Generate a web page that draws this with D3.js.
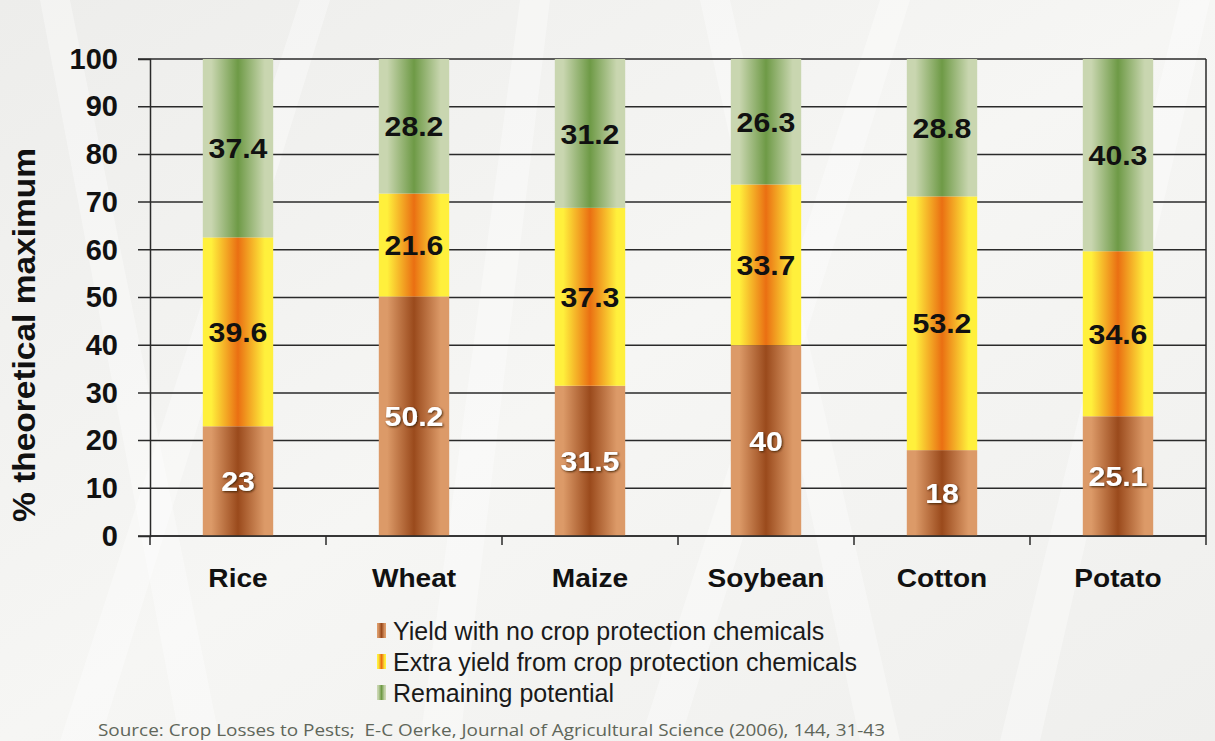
<!DOCTYPE html>
<html>
<head>
<meta charset="utf-8">
<script src="https://cdn.jsdelivr.net/npm/d3@7"></script>
<style>
  body { margin: 0; background: #f2f2f0; }
  svg { display: block; }
</style>
</head>
<body>
<div id="chart"></div>
<script>
var crops = ["Rice", "Wheat", "Maize", "Soybean", "Cotton", "Potato"];
var noChem = [23, 50.2, 31.5, 40, 18, 25.1];
var extraYield = [39.6, 21.6, 37.3, 33.7, 53.2, 34.6];
var remaining = [37.4, 28.2, 31.2, 26.3, 28.8, 40.3];
var yTicks = [0, 10, 20, 30, 40, 50, 60, 70, 80, 90, 100];
var seriesNames = ["Yield with no crop protection chemicals",
                   "Extra yield from crop protection chemicals",
                   "Remaining potential"];

var width = 1215, height = 741;
var margin = {left: 150, right: 9, top: 59, bottom: 205};
var font = "Liberation Sans, Arial, sans-serif";
var stretch = 1.08;

var rows = crops.map(function(c, i) {
  return {crop: c, a: noChem[i], b: extraYield[i], c: remaining[i]};
});

var svg = d3.select("#chart").append("svg")
    .attr("width", width)
    .attr("height", height);

var defs = svg.append("defs");

// soft background
var bg = defs.append("linearGradient").attr("id", "bg")
    .attr("x1", 0).attr("y1", 0).attr("x2", 1).attr("y2", 1);
bg.append("stop").attr("offset", "0%").attr("stop-color", "#ededeb");
bg.append("stop").attr("offset", "50%").attr("stop-color", "#f6f6f4");
bg.append("stop").attr("offset", "100%").attr("stop-color", "#efefed");
svg.append("rect").attr("width", width).attr("height", height).attr("fill", "url(#bg)");

// faint leaf streaks in the background
var streaks = [[60, 741, 300, 0], [420, 741, 520, 0], [640, 741, 880, 0], [1000, 741, 1180, 0], [180, 741, 40, 0], [860, 741, 700, 0]];
svg.append("g").selectAll("path").data(streaks).enter().append("path")
    .attr("d", function(d) { return "M" + d[0] + "," + d[1] + "L" + d[2] + "," + d[3] + "L" + (d[2] + 30) + "," + d[3] + "L" + (d[0] + 40) + "," + d[1] + "Z"; })
    .attr("fill", "#ffffff").attr("opacity", 0.35);

// bar gradients (horizontal: light edges, dark centre)
var grads = [
  {id: "gBrown", edge: "#dc9a68", mid: "#9a4a1c"},
  {id: "gOrange", edge: "#fff03c", mid: "#ea6f12"},
  {id: "gGreen", edge: "#c9d6b0", mid: "#6e9a46"}
];
grads.forEach(function(g) {
  var lg = defs.append("linearGradient").attr("id", g.id)
      .attr("x1", 0).attr("y1", 0).attr("x2", 1).attr("y2", 0);
  lg.append("stop").attr("offset", "0%").attr("stop-color", g.edge);
  lg.append("stop").attr("offset", "12%").attr("stop-color", g.edge);
  lg.append("stop").attr("offset", "50%").attr("stop-color", g.mid);
  lg.append("stop").attr("offset", "88%").attr("stop-color", g.edge);
  lg.append("stop").attr("offset", "100%").attr("stop-color", g.edge);
});

var shadow = defs.append("filter").attr("id", "shadow")
    .attr("x", "-20%").attr("y", "-20%").attr("width", "140%").attr("height", "140%");
shadow.append("feDropShadow").attr("dx", 1).attr("dy", 1).attr("stdDeviation", 1.2)
    .attr("flood-color", "#3a1a05").attr("flood-opacity", 0.9);

var x = d3.scaleBand()
    .domain(crops)
    .range([margin.left, width - margin.right])
    .paddingInner(0.6)
    .paddingOuter(0.3);

var y = d3.scaleLinear()
    .domain([0, 100])
    .range([height - margin.bottom, margin.top]);

// gridlines
svg.append("g").selectAll("line").data(yTicks).enter().append("line")
    .attr("x1", margin.left - 12).attr("x2", width - margin.right)
    .attr("y1", function(d) { return y(d); }).attr("y2", function(d) { return y(d); })
    .attr("stroke", "#2a2a2a").attr("stroke-width", 1.5);

// y axis
var yAxis = svg.append("g")
    .attr("transform", "translate(" + margin.left + ",0)")
    .call(d3.axisLeft(y).tickValues(yTicks).tickSize(12).tickPadding(20));
yAxis.select(".domain").attr("stroke", "#2a2a2a").attr("stroke-width", 1.5);
yAxis.selectAll(".tick line").remove();
yAxis.selectAll("text")
    .attr("font-family", font)
    .attr("font-weight", "bold").attr("font-size", 29).attr("fill", "#111");

// right boundary line
svg.append("line")
    .attr("x1", width - margin.right).attr("x2", width - margin.right)
    .attr("y1", y(100)).attr("y2", y(0) + 9)
    .attr("stroke", "#2a2a2a").attr("stroke-width", 1.5);
svg.append("line")
    .attr("x1", margin.left).attr("x2", margin.left)
    .attr("y1", y(0)).attr("y2", y(0) + 9)
    .attr("stroke", "#2a2a2a").attr("stroke-width", 1.5);

// category boundary ticks
var step = x.step();
var bounds = crops.slice(1).map(function(c) { return x(c) - (step - x.bandwidth()) / 2; });
svg.append("g").selectAll("line").data(bounds).enter().append("line")
    .attr("x1", function(d) { return d; }).attr("x2", function(d) { return d; })
    .attr("y1", y(0)).attr("y2", y(0) + 9)
    .attr("stroke", "#2a2a2a").attr("stroke-width", 1.5);

// stacked bars
var stack = d3.stack().keys(["a", "b", "c"]);
var layers = stack(rows);
var fills = ["url(#gBrown)", "url(#gOrange)", "url(#gGreen)"];

var layer = svg.append("g").selectAll("g").data(layers).enter().append("g")
    .attr("fill", function(d, i) { return fills[i]; });

layer.selectAll("rect").data(function(d) { return d; }).enter().append("rect")
    .attr("x", function(d) { return x(d.data.crop); })
    .attr("width", x.bandwidth())
    .attr("y", function(d) { return y(d[1]); })
    .attr("height", function(d) { return y(d[0]) - y(d[1]); });

// bottom axis line over bars
svg.append("line")
    .attr("x1", margin.left).attr("x2", width - margin.right)
    .attr("y1", y(0)).attr("y2", y(0))
    .attr("stroke", "#2a2a2a").attr("stroke-width", 1.5);

// value labels
layers.forEach(function(l, i) {
  svg.append("g").selectAll("text").data(l).enter().append("text")
      .attr("transform", function(d) {
        return "translate(" + (x(d.data.crop) + x.bandwidth() / 2) + "," + y((d[0] + d[1]) / 2) + ")scale(" + stretch + ",1)";
      })
      .attr("dy", "0.36em")
      .attr("text-anchor", "middle")
      .attr("font-family", font)
      .attr("font-weight", "bold")
      .attr("font-size", 28)
      .attr("fill", i === 0 ? "#ffffff" : "#111111")
      .attr("filter", i === 0 ? "url(#shadow)" : null)
      .text(function(d) {
        var v = Math.round((d[1] - d[0]) * 10) / 10;
        return v === Math.round(v) ? d3.format("d")(v) : d3.format(".1f")(v);
      });
});

// category labels
svg.append("g").selectAll("text").data(crops).enter().append("text")
    .attr("transform", function(d) { return "translate(" + (x(d) + x.bandwidth() / 2) + ",587)scale(" + stretch + ",1)"; })
    .attr("text-anchor", "middle")
    .attr("font-family", font)
    .attr("font-weight", "bold").attr("font-size", 26).attr("fill", "#111")
    .text(function(d) { return d; });

// y title
svg.append("text")
    .attr("transform", "translate(35,335)rotate(-90)scale(" + stretch + ",1)")
    .attr("text-anchor", "middle")
    .attr("font-family", font)
    .attr("font-weight", "bold").attr("font-size", 31).attr("fill", "#111")
    .text("% theoretical maximum");

// legend
var legend = svg.append("g").attr("transform", "translate(377,631)");
var item = legend.selectAll("g").data(seriesNames).enter().append("g")
    .attr("transform", function(d, i) { return "translate(0," + i * 31 + ")"; });
item.append("rect")
    .attr("x", 0).attr("y", -8).attr("width", 9).attr("height", 15)
    .attr("fill", function(d, i) { return fills[i]; });
item.append("text")
    .attr("x", 16).attr("y", 0).attr("dy", "0.35em")
    .attr("font-family", font)
    .attr("font-size", 25).attr("fill", "#1a1a1a")
    .text(function(d) { return d; });

// source
svg.append("text")
    .attr("x", 98).attr("y", 736)
    .attr("font-family", "Open Sans, sans-serif")
    .attr("font-size", 17).attr("fill", "#5f665a")
    .attr("textLength", 787).attr("lengthAdjust", "spacingAndGlyphs")
    .attr("xml:space", "preserve")
    .text("Source: Crop Losses to Pests;  E-C Oerke, Journal of Agricultural Science (2006), 144, 31-43");
</script>
</body>
</html>
